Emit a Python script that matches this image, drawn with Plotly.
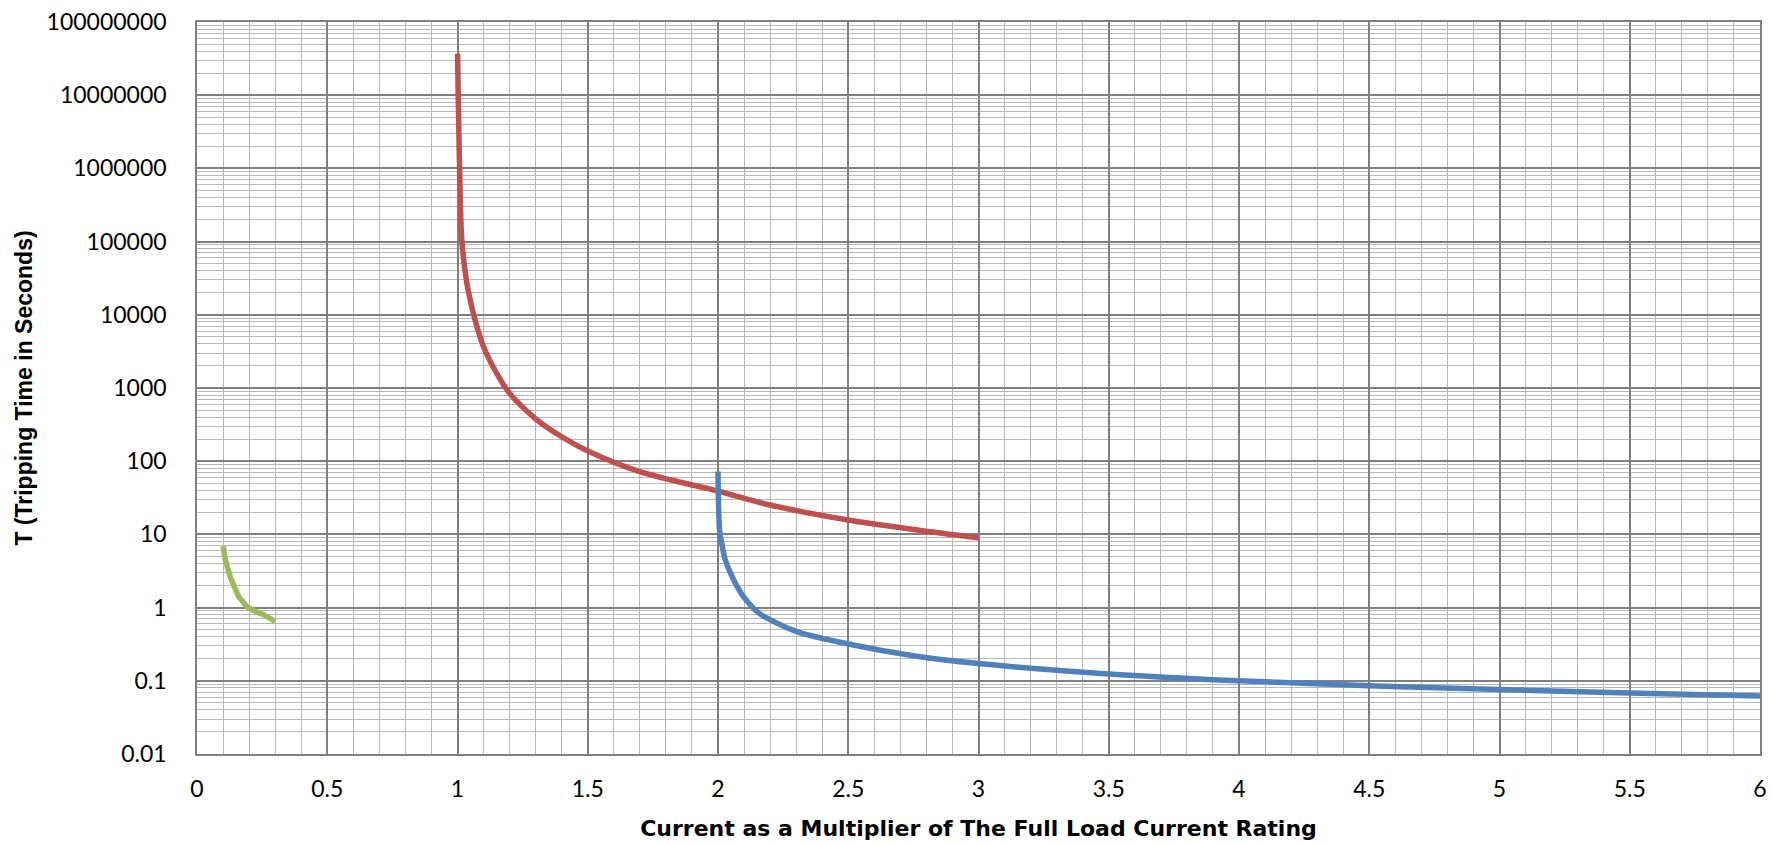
import plotly.graph_objects as go

# values
green_x = [0.1, 0.109, 0.128, 0.16, 0.192, 0.212, 0.256, 0.276, 0.3]
green_y = [6.9, 4.47, 2.6, 1.41, 1.03, 0.93, 0.8, 0.72, 0.65]

red_x = [1.0004, 1.003, 1.008, 1.017, 1.036, 1.049, 1.062, 1.1, 1.15, 1.2, 1.3,
         1.4, 1.5, 1.7, 2.0, 2.2, 2.5, 2.75, 3.0]
red_y = [3.7e7, 8.5e6, 1.05e6, 1.0e5, 2.7e4, 1.6e4, 1.0e4, 3670, 1600, 850, 380,
         216, 138, 72, 39, 25.2, 15.7, 11.7, 9.0]

blue_x = [2.0, 2.006, 2.012, 2.028, 2.06, 2.098, 2.156, 2.2, 2.3, 2.5, 2.75, 3.0,
          3.5, 4.0, 4.5, 5.0, 5.5, 6.0]
blue_y = [72, 11.5, 8.4, 4.5, 2.4, 1.41, 0.845, 0.685, 0.474, 0.318, 0.22, 0.172,
          0.124, 0.100, 0.0855, 0.0760, 0.0680, 0.062]

x_ticks = [0, 0.5, 1, 1.5, 2, 2.5, 3, 3.5, 4, 4.5, 5, 5.5, 6]
x_labels = ["0", "0.5", "1", "1.5", "2", "2.5", "3", "3.5", "4", "4.5", "5", "5.5", "6"]
y_ticks = [0.01, 0.1, 1, 10, 100, 1000, 10000, 100000, 1000000, 10000000, 100000000]
y_labels = ["0.01", "0.1", "1", "10", "100", "1000", "10000", "100000", "1000000",
            "10000000", "100000000"]

x_minor = [i / 10 for i in range(0, 61)]
y_minor = [k * 10.0 ** e for e in range(-2, 8) for k in range(2, 10)]

major_grid = "#808080"
minor_grid = "#B8B8B8"

fig = go.Figure()
fig.add_trace(go.Scatter(x=green_x, y=green_y, mode="lines",
                         line=dict(color="#9BBB59", width=5.5)))
fig.add_trace(go.Scatter(x=red_x, y=red_y, mode="lines",
                         line=dict(color="#C0504D", width=5.5, shape="spline", smoothing=1.0)))
fig.add_trace(go.Scatter(x=blue_x, y=blue_y, mode="lines",
                         line=dict(color="#4F81BD", width=5.5, shape="spline", smoothing=1.0)))

tick_font = dict(family="Lato", size=23, color="#000000")

fig.update_layout(
    width=1772, height=843,
    margin=dict(l=197, r=12, t=22, b=89),
    paper_bgcolor="white", plot_bgcolor="white",
    showlegend=False,
    xaxis=dict(
        range=[0, 6], tickmode="array", tickvals=x_ticks, ticktext=x_labels,
        tickfont=tick_font, ticklabelstandoff=14,
        showgrid=True, gridcolor=major_grid, gridwidth=1.5,
        zeroline=False, showline=True, linecolor=major_grid, linewidth=1.5, mirror=True,
        ticks="",
        minor=dict(tickmode="array", tickvals=x_minor, showgrid=True,
                   gridcolor=minor_grid, gridwidth=1.4),
        title=dict(text="<b>Current as a Multiplier of The Full Load Current Rating</b>",
                   font=dict(family="DejaVu Sans", size=22, color="#000000"), standoff=19),
        automargin=False,
    ),
    yaxis=dict(
        type="log", range=[-2, 8], tickmode="array", tickvals=y_ticks, ticktext=y_labels,
        tickfont=tick_font, ticklabelstandoff=24,
        showgrid=True, gridcolor=major_grid, gridwidth=1.5,
        zeroline=False, showline=True, linecolor=major_grid, linewidth=1.5, mirror=True,
        ticks="",
        minor=dict(tickmode="array", tickvals=y_minor, showgrid=True,
                   gridcolor=minor_grid, gridwidth=1.4),
        title=dict(text="<b>T (Tripping Time in Seconds)</b>",
                   font=dict(family="Liberation Sans", size=23, color="#000000"), standoff=8),
        automargin=False,
    ),
)

fig.write_html("out.html", config={"displayModeBar": False},
               post_script="document.body.style.margin='0';")
